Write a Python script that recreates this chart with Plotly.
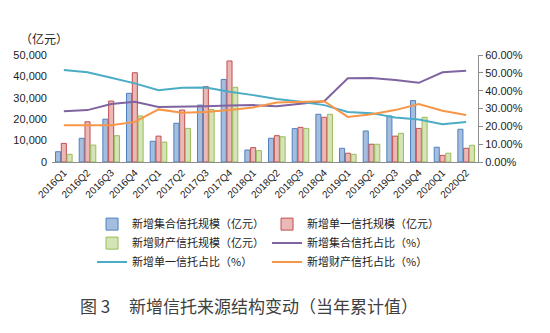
import plotly.graph_objects as go

categories = ["2016Q1", "2016Q2", "2016Q3", "2016Q4", "2017Q1", "2017Q2", "2017Q3", "2017Q4",
              "2018Q1", "2018Q2", "2018Q3", "2018Q4", "2019Q1", "2019Q2", "2019Q3", "2019Q4",
              "2020Q1", "2020Q2"]

# scale, 亿元
collective_scale = [4800, 11100, 20000, 32100, 9700, 18100, 26600, 38600,
                    5600, 11100, 15600, 22300, 6400, 14500, 21500, 28700, 6900, 15300]
single_scale = [8700, 18800, 28500, 41700, 12100, 24300, 35200, 47200,
                6700, 12300, 16200, 20900, 4100, 8300, 12100, 15700, 3100, 6400]
property_scale = [3600, 7900, 12300, 21500, 9300, 15700, 24500, 34900,
                  5300, 11800, 15700, 22300, 3600, 8300, 13400, 20900, 4100, 7800]

# shares, %
collective_share = [28.5, 29.1, 32.5, 33.8, 30.9, 30.9, 31.3, 31.7,
                    31.9, 31.3, 32.8, 34.1, 46.9, 47.1, 46.0, 44.4, 50.3, 51.2]
single_share = [51.6, 50.3, 47.3, 44.1, 40.3, 41.6, 41.8, 39.4,
                37.5, 35.3, 33.8, 31.9, 28.1, 27.4, 25.0, 23.8, 21.2, 22.5]
property_share = [20.6, 20.6, 20.6, 22.5, 29.5, 27.6, 28.0, 29.1,
                  30.6, 33.4, 33.8, 34.1, 25.3, 26.8, 29.1, 32.5, 28.7, 26.3]

names = ["新增集合信托规模（亿元）", "新增单一信托规模（亿元）", "新增财产信托规模（亿元）",
         "新增集合信托占比（%）", "新增单一信托占比（%）", "新增财产信托占比（%）"]

FONT = "Liberation Sans, Noto Sans CJK SC, sans-serif"
CJK = "Noto Sans CJK SC, sans-serif"

fig = go.Figure()
bar_styles = [("#A5BEE0", "#4F81BD"), ("#E9B8B7", "#C0504D"), ("#D4E4B6", "#9BBB59")]
for vals, nm, (fc, lc) in zip([collective_scale, single_scale, property_scale], names[:3], bar_styles):
    fig.add_trace(go.Bar(x=categories, y=vals, name=nm,
                         marker=dict(color=fc, line=dict(color=lc, width=1))))

line_colors = ["#8064A2", "#4BACC6", "#F79646"]
for vals, nm, c in zip([collective_share, single_share, property_share], names[3:], line_colors):
    fig.add_trace(go.Scatter(x=categories, y=vals, name=nm, mode="lines", yaxis="y2",
                             line=dict(color=c, width=2)))

fig.update_layout(
    width=550, height=333,
    margin=dict(l=52, r=72, t=55, b=171),
    paper_bgcolor="white", plot_bgcolor="white",
    barmode="group", bargap=0.27, bargroupgap=0.12,
    font=dict(family=FONT, size=11, color="#222222"),
    xaxis=dict(type="category", tickangle=-45, showline=True, linecolor="#8C8C8C", linewidth=1,
               ticks="", tickfont=dict(size=10, color="#222222"), showgrid=False),
    yaxis=dict(range=[0, 50000], dtick=10000, tickformat=",", showgrid=False, zeroline=False,
               showline=False, tickfont=dict(size=11, color="#222222"), ticklabelstandoff=4),
    yaxis2=dict(range=[0, 60], dtick=10, overlaying="y", side="right", tickformat=".2f",
                ticksuffix="%", showgrid=False, zeroline=False, showline=True, linecolor="#8C8C8C",
                ticks="outside", ticklen=4, tickcolor="#8C8C8C",
                tickfont=dict(size=11, color="#222222")),
    legend=dict(orientation="h", x=0.094, xanchor="left", y=-0.445, yanchor="top",
                entrywidth=130, entrywidthmode="pixels", traceorder="normal",
                font=dict(family=CJK, size=11, color="#222222"), tracegroupgap=0),
    showlegend=True,
    annotations=[
        dict(text="（亿元）", xref="paper", yref="paper", x=-0.08, y=1.15,
             xanchor="left", yanchor="middle", showarrow=False,
             font=dict(family=CJK, size=12, color="#222222")),
        dict(text="图 3", xref="paper", yref="paper", x=(78 - 52) / 426, y=(162 - 305) / 107,
             xanchor="left", yanchor="middle", showarrow=False,
             font=dict(family=CJK, size=17, color="#404040")),
        dict(text="新增信托来源结构变动（当年累计值）", xref="paper", yref="paper",
             x=(127 - 52) / 426, y=(162 - 305) / 107,
             xanchor="left", yanchor="middle", showarrow=False,
             font=dict(family=CJK, size=17, color="#404040")),
    ],
)

fig.write_html("out.html")
